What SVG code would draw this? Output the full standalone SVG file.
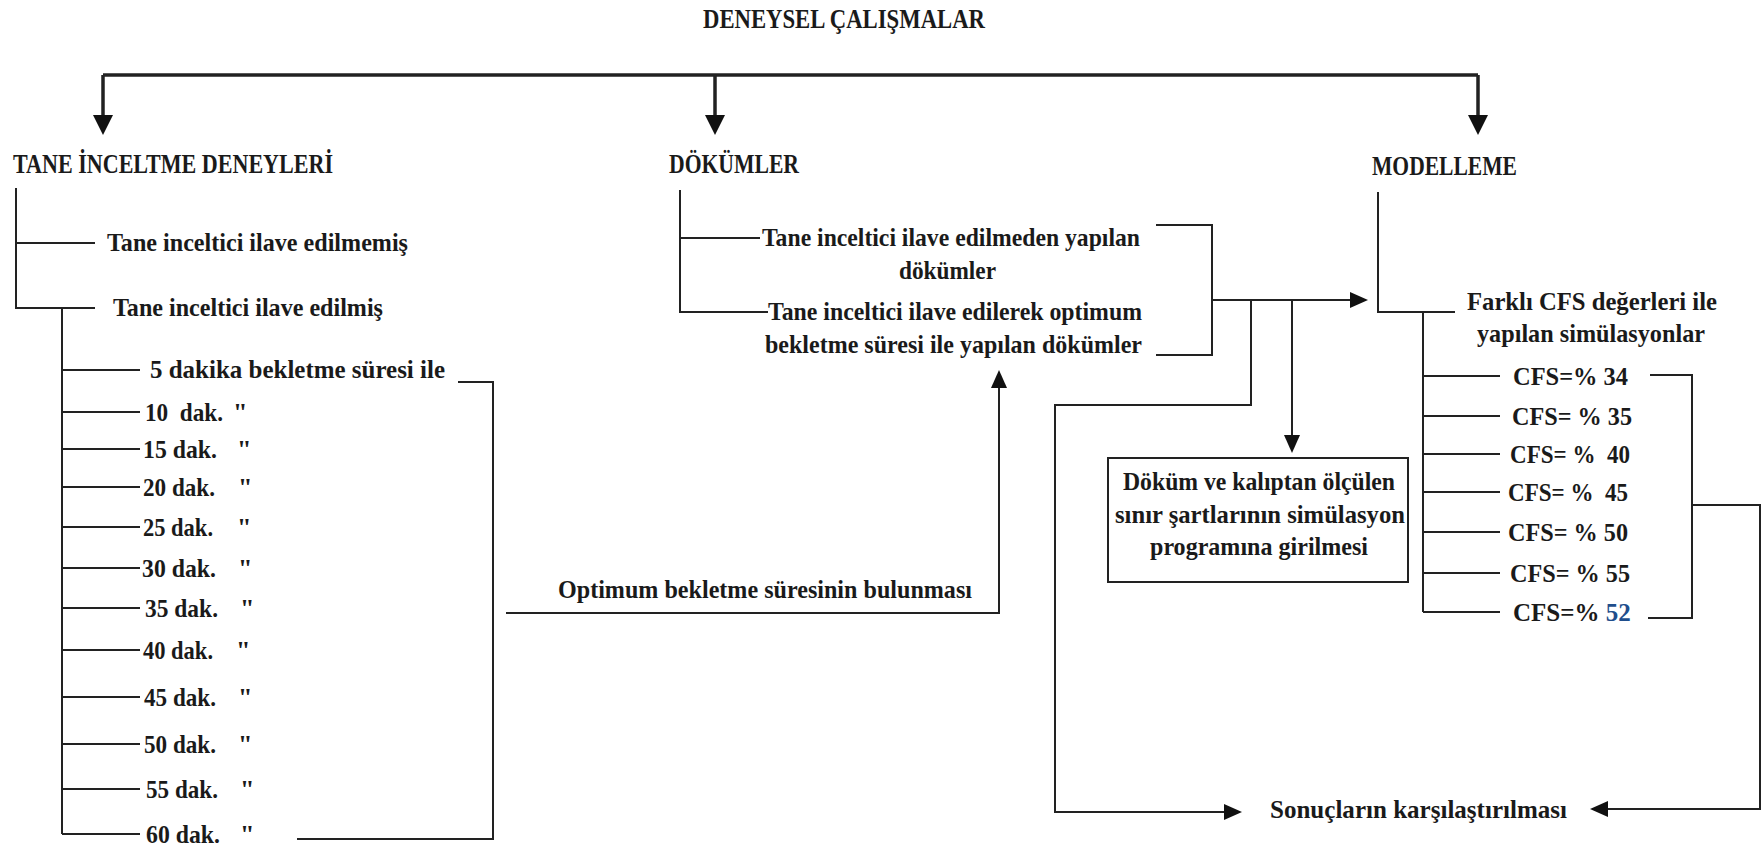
<svg xmlns="http://www.w3.org/2000/svg" width="1762" height="848" viewBox="0 0 1762 848">
<style>
.t{font-family:"Liberation Serif","Times New Roman",serif;font-weight:bold;font-size:26px;fill:#1a1a1a}
.h{font-size:27px}
.ln{fill:none;stroke:#222;stroke-width:2}
.thk{stroke-width:3.5}
.blue{fill:#1f4e8c}
</style>
<defs>
<marker id="ab" markerUnits="userSpaceOnUse" viewBox="0 0 20 20" refX="10" refY="10" markerWidth="20" markerHeight="20" orient="auto"><path d="M0,0 L20,10 L0,20 z" fill="#111"/></marker>
<marker id="as" markerUnits="userSpaceOnUse" viewBox="0 0 18 16" refX="9" refY="8" markerWidth="18" markerHeight="16" orient="auto"><path d="M0,0 L18,8 L0,16 z" fill="#111"/></marker>
</defs>
<rect width="1762" height="848" fill="#fff"/>

<g id="connectors">
<path class="ln thk" d="M103,75 H1478"/>
<path class="ln thk" d="M103,75 V125" marker-end="url(#ab)"/>
<path class="ln thk" d="M715,75 V125" marker-end="url(#ab)"/>
<path class="ln thk" d="M1478,75 V125" marker-end="url(#ab)"/>
<path class="ln" d="M16,188 V308 H95"/>
<path class="ln" d="M16,243 H95"/>
<path class="ln" d="M62,308 V834"/>
<path class="ln" d="M62,370 H140 M62,412 H140 M62,449 H140 M62,487 H140 M62,527 H140 M62,568 H140 M62,608 H140 M62,650 H140 M62,697 H140 M62,744 H140 M62,789 H140 M62,834 H140"/>
<path class="ln" d="M458,382 H493 V839 H297"/>
<path class="ln" d="M506,613 H999 V379" marker-end="url(#as)"/>
<path class="ln" d="M680,190 V312 H768 M680,238 H760"/>
<path class="ln" d="M1156,225 H1212 V355 H1156"/>
<path class="ln" d="M1212,300 H1359" marker-end="url(#as)"/>
<path class="ln" d="M1251,300 V405 H1055 V812 H1233" marker-end="url(#as)"/>
<path class="ln" d="M1292,300 V444" marker-end="url(#as)"/>
<path class="ln" d="M1378,192 V312 H1455"/>
<path class="ln" d="M1423,312 V612"/>
<path class="ln" d="M1423,376 H1500 M1423,416 H1500 M1423,454 H1500 M1423,492 H1500 M1423,532 H1500 M1423,573 H1500 M1423,612 H1500"/>
<path class="ln" d="M1650,375 H1692 V618 H1648"/>
<path class="ln" d="M1692,505 H1760 V809 H1599" marker-end="url(#as)"/>
</g>

<g id="title"><text class="t h" x="703" y="28" textLength="282" lengthAdjust="spacingAndGlyphs">DENEYSEL ÇALIŞMALAR</text></g>

<g id="tane"><text class="t h" x="13" y="173" textLength="320" lengthAdjust="spacingAndGlyphs">TANE İNCELTME DENEYLERİ</text></g>
<g id="tane-edilmemis"><text class="t" x="107" y="251" textLength="301" lengthAdjust="spacingAndGlyphs">Tane inceltici ilave edilmemiş</text></g>
<g id="tane-edilmis"><text class="t" x="113" y="316" textLength="270" lengthAdjust="spacingAndGlyphs">Tane inceltici ilave edilmiş</text></g>
<g id="dak5"><text class="t" x="150" y="378" textLength="295" lengthAdjust="spacingAndGlyphs">5 dakika bekletme süresi ile</text></g>
<g id="dak10"><text class="t" x="145" y="421" xml:space="preserve"><tspan textLength="78" lengthAdjust="spacingAndGlyphs">10  dak.</tspan><tspan x="233">"</tspan></text></g>
<g id="dak15"><text class="t" x="143" y="458"><tspan textLength="74" lengthAdjust="spacingAndGlyphs">15 dak.</tspan><tspan x="237">"</tspan></text></g>
<g id="dak20"><text class="t" x="143" y="496"><tspan textLength="72" lengthAdjust="spacingAndGlyphs">20 dak.</tspan><tspan x="238">"</tspan></text></g>
<g id="dak25"><text class="t" x="143" y="536"><tspan textLength="70" lengthAdjust="spacingAndGlyphs">25 dak.</tspan><tspan x="237">"</tspan></text></g>
<g id="dak30"><text class="t" x="142" y="577"><tspan textLength="74" lengthAdjust="spacingAndGlyphs">30 dak.</tspan><tspan x="238">"</tspan></text></g>
<g id="dak35"><text class="t" x="145" y="617"><tspan textLength="73" lengthAdjust="spacingAndGlyphs">35 dak.</tspan><tspan x="240">"</tspan></text></g>
<g id="dak40"><text class="t" x="143" y="659"><tspan textLength="70" lengthAdjust="spacingAndGlyphs">40 dak.</tspan><tspan x="236">"</tspan></text></g>
<g id="dak45"><text class="t" x="144" y="706"><tspan textLength="72" lengthAdjust="spacingAndGlyphs">45 dak.</tspan><tspan x="238">"</tspan></text></g>
<g id="dak50"><text class="t" x="144" y="753"><tspan textLength="72" lengthAdjust="spacingAndGlyphs">50 dak.</tspan><tspan x="238">"</tspan></text></g>
<g id="dak55"><text class="t" x="146" y="798"><tspan textLength="72" lengthAdjust="spacingAndGlyphs">55 dak.</tspan><tspan x="240">"</tspan></text></g>
<g id="dak60"><text class="t" x="146" y="843"><tspan textLength="74" lengthAdjust="spacingAndGlyphs">60 dak.</tspan><tspan x="240">"</tspan></text></g>

<g id="optimum"><text class="t" x="558" y="598" textLength="414" lengthAdjust="spacingAndGlyphs">Optimum bekletme süresinin bulunması</text></g>

<g id="dokumler"><text class="t h" x="669" y="173" textLength="130" lengthAdjust="spacingAndGlyphs">DÖKÜMLER</text></g>
<g id="dokum1"><text class="t" x="762" y="246" textLength="378" lengthAdjust="spacingAndGlyphs">Tane inceltici ilave edilmeden yapılan</text><text class="t" x="899" y="279" textLength="97" lengthAdjust="spacingAndGlyphs">dökümler</text></g>
<g id="dokum2"><text class="t" x="768" y="320" textLength="374" lengthAdjust="spacingAndGlyphs">Tane inceltici ilave edilerek optimum</text><text class="t" x="765" y="353" textLength="377" lengthAdjust="spacingAndGlyphs">bekletme süresi ile yapılan dökümler</text></g>

<g id="box"><rect x="1108" y="458" width="300" height="124" fill="#fff" stroke="#222" stroke-width="2"/>
<text class="t" x="1123" y="490" textLength="272" lengthAdjust="spacingAndGlyphs">Döküm ve kalıptan ölçülen</text>
<text class="t" x="1115" y="523" textLength="290" lengthAdjust="spacingAndGlyphs">sınır şartlarının simülasyon</text>
<text class="t" x="1150" y="555" textLength="218" lengthAdjust="spacingAndGlyphs">programına girilmesi</text></g>

<g id="modelleme"><text class="t h" x="1372" y="175" textLength="145" lengthAdjust="spacingAndGlyphs">MODELLEME</text></g>
<g id="farkli"><text class="t" x="1467" y="310" textLength="250" lengthAdjust="spacingAndGlyphs">Farklı CFS değerleri ile</text><text class="t" x="1477" y="342" textLength="228" lengthAdjust="spacingAndGlyphs">yapılan simülasyonlar</text></g>
<g id="cfs34"><text class="t" x="1513" y="385" xml:space="preserve" textLength="115" lengthAdjust="spacingAndGlyphs">CFS=% 34</text></g>
<g id="cfs35"><text class="t" x="1512" y="425" xml:space="preserve" textLength="120" lengthAdjust="spacingAndGlyphs">CFS= % 35</text></g>
<g id="cfs40"><text class="t" x="1510" y="463" xml:space="preserve" textLength="120" lengthAdjust="spacingAndGlyphs">CFS= %  40</text></g>
<g id="cfs45"><text class="t" x="1508" y="501" xml:space="preserve" textLength="120" lengthAdjust="spacingAndGlyphs">CFS= %  45</text></g>
<g id="cfs50"><text class="t" x="1508" y="541" xml:space="preserve" textLength="120" lengthAdjust="spacingAndGlyphs">CFS= % 50</text></g>
<g id="cfs55"><text class="t" x="1510" y="582" xml:space="preserve" textLength="120" lengthAdjust="spacingAndGlyphs">CFS= % 55</text></g>
<g id="cfs52"><text class="t" x="1513" y="621" style="font-size:25px" xml:space="preserve">CFS=% <tspan class="blue">52</tspan></text></g>

<g id="sonuclar"><text class="t" x="1270" y="818" textLength="297" lengthAdjust="spacingAndGlyphs">Sonuçların karşılaştırılması</text></g>
</svg>
